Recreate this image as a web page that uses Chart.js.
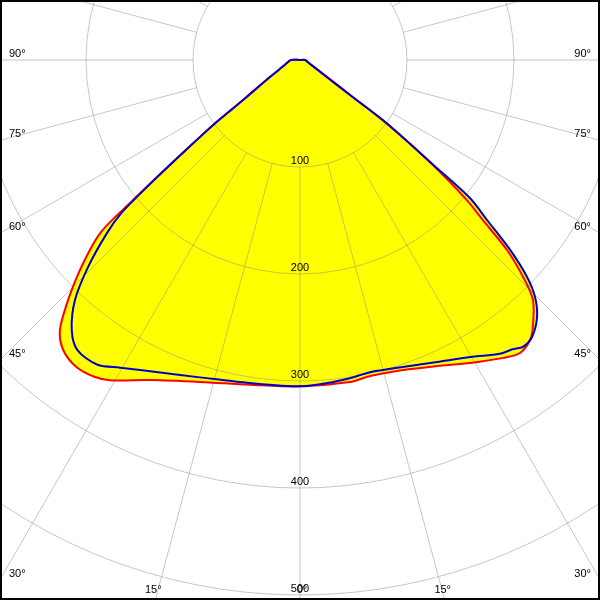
<!DOCTYPE html>
<html>
<head>
<meta charset="utf-8">
<script src="https://cdn.jsdelivr.net/npm/chart.js@4.4.1/dist/chart.umd.min.js"></script>
<style>
  body { margin: 0; background: #fff; }
  #wrap { width: 600px; height: 600px; }
</style>
</head>
<body>
<div id="wrap"><canvas id="myChart" width="600" height="600"></canvas></div>
<script>
// luminous intensity (cd), angles in degrees measured from straight down
const redLeftAngles  = [0, 8.75, 17.25, 25, 30.7, 33, 36, 39.2, 41.6, 44, 46.6, 49.1, 50, 51.1, 52, 53.2, 54.4, 56.3, 60.5, 65, 75, 90, 180];
const redLeftValues  = [305, 307, 315, 330, 348, 353, 355, 350, 338, 312, 281, 247, 204, 156, 128, 101, 73, 52, 32, 22, 13.5, 8.5, 0];
const redRightAngles = [0, 8.8, 12.5, 18.4, 24.1, 29.3, 34.3, 36.9, 39.4, 41.1, 44.15, 45.8, 47.45, 48.8, 50, 51.8, 53.9, 55, 57, 60, 70, 90, 180];
const redRightValues = [305, 304.6, 302.5, 305.3, 313.3, 324.7, 337, 342.4, 338.7, 331, 312.6, 290.8, 262.6, 227, 203, 155, 96, 57, 33, 20.5, 9, 4.7, 0];

const blueLeftAngles  = [0, 8.8, 17.5, 24.1, 30.3, 33.6, 37.5, 40.2, 43.15, 45.7, 48.1, 49.4, 50.2, 51.1, 52, 53.2, 54.4, 56.3, 60.5, 65, 75, 90, 180];
const blueLeftValues  = [305, 305.5, 311, 320, 333, 342, 341.7, 330.5, 307.5, 276.5, 242.6, 220, 190, 156, 128, 101, 73, 52, 32, 22, 13.5, 8.5, 0];
const blueRightAngles = [0, 4.8, 8.9, 12.65, 18.5, 24.4, 30.2, 34.2, 36.3, 37.85, 39.95, 42.7, 44.75, 46.3, 47.9, 49.45, 50.9, 51.8, 53.9, 55, 57, 60, 70, 90, 180];
const blueRightValues = [305, 303, 301, 299, 302.6, 310, 321, 332, 335.5, 339.5, 337.7, 326.7, 312, 293.5, 264.7, 230, 204.6, 159, 100, 59, 34.5, 21.3, 9.4, 4.7, 0];

const ringValues = [100, 200, 300, 400, 500];
const angleLabels = [90, 75, 60, 45, 30, 15, 0];
const spokeStep = 15;

// turn the two half-planes into one closed curve (x to the right, y up)
function toPoints(leftA, leftV, rightA, rightV) {
  const pts = [];
  for (let i = leftA.length - 1; i >= 0; i--) {
    const a = leftA[i] * Math.PI / 180;
    pts.push({x: -leftV[i] * Math.sin(a), y: -leftV[i] * Math.cos(a)});
  }
  for (let i = 1; i < rightA.length; i++) {
    const a = rightA[i] * Math.PI / 180;
    pts.push({x: rightV[i] * Math.sin(a), y: -rightV[i] * Math.cos(a)});
  }
  return pts;
}

const redPoints = toPoints(redLeftAngles, redLeftValues, redRightAngles, redRightValues);
const bluePoints = toPoints(blueLeftAngles, blueLeftValues, blueRightAngles, blueRightValues);

const polarGrid = {
  id: 'polarGrid',
  beforeDatasetsDraw(chart) {
    const ctx = chart.ctx;
    const area = chart.chartArea;
    const sx = chart.scales.x, sy = chart.scales.y;
    const cx = sx.getPixelForValue(0), cy = sy.getPixelForValue(0);
    const k = sx.getPixelForValue(100) - cx; // px per 100 cd

    ctx.save();
    ctx.beginPath();
    ctx.rect(area.left, area.top, area.right - area.left, area.bottom - area.top);
    ctx.clip();

    // yellow fill of both curves
    chart.data.datasets.forEach((ds, i) => {
      const line = chart.getDatasetMeta(i).dataset;
      ctx.beginPath();
      line.path(ctx);
      ctx.closePath();
      ctx.fillStyle = '#ffff00';
      ctx.fill();
    });

    ctx.strokeStyle = 'rgba(130,130,130,0.45)';
    ctx.lineWidth = 1;
    ringValues.forEach(v => {
      ctx.beginPath();
      ctx.arc(cx, cy, v / 100 * k, 0, Math.PI * 2);
      ctx.stroke();
    });
    for (let a = 0; a < 360; a += spokeStep) {
      const r = a * Math.PI / 180;
      const dx = Math.sin(r), dy = Math.cos(r);
      ctx.beginPath();
      ctx.moveTo(cx + dx * k, cy + dy * k);
      ctx.lineTo(cx + dx * k * 10, cy + dy * k * 10);
      ctx.stroke();
    }

    ctx.fillStyle = '#000';
    ctx.font = '11px "Liberation Sans", Arial, sans-serif';
    ctx.textAlign = 'center';
    ctx.textBaseline = 'alphabetic';
    ringValues.forEach(v => {
      ctx.fillText(String(v), cx, cy + v / 100 * k - 3);
    });

    angleLabels.forEach(deg => {
      const r = deg * Math.PI / 180;
      const s = Math.sin(r), c = Math.cos(r);
      const tSide = s > 0 ? (cx - area.left) / s : Infinity;
      const tBottom = (area.bottom - cy) / c;
      if (tSide < tBottom) {
        const y = cy + c * tSide;
        ctx.textAlign = 'left';
        ctx.fillText(deg + '°', area.left + 9, y - 3);
        ctx.textAlign = 'right';
        ctx.fillText(deg + '°', area.right - 9, y - 3);
      } else if (deg === 0) {
        ctx.textAlign = 'center';
        ctx.fillText('0°', cx + 2, area.bottom - 7);
      } else {
        const off = s * tBottom;
        ctx.textAlign = 'center';
        ctx.fillText(deg + '°', cx - off - 2, area.bottom - 7);
        ctx.fillText(deg + '°', cx + off - 2, area.bottom - 7);
      }
    });
    ctx.restore();
  },
  afterDraw(chart) {
    const ctx = chart.ctx;
    ctx.save();
    ctx.strokeStyle = '#000';
    ctx.lineWidth = 2;
    ctx.strokeRect(1, 1, chart.width - 2, chart.height - 2);
    ctx.restore();
  }
};

const ctx = document.getElementById('myChart').getContext('2d');
const myChart = new Chart(ctx, {
  type: 'scatter',
  data: {
    datasets: [{
      label: 'C0-C180',
      data: redPoints,
      showLine: true,
      borderColor: '#ff0000',
      borderWidth: 2,
      pointRadius: 0,
      tension: 0.3,
      fill: false,
      order: 2
    }, {
      label: 'C90-C270',
      data: bluePoints,
      showLine: true,
      borderColor: '#0000cc',
      borderWidth: 2,
      pointRadius: 0,
      tension: 0.3,
      fill: false,
      order: 1
    }]
  },
  options: {
    responsive: false,
    animation: false,
    devicePixelRatio: 1,
    layout: { padding: 0 },
    plugins: { legend: { display: false }, tooltip: { enabled: false } },
    scales: {
      x: { type: 'linear', display: false, min: -280.37, max: 280.37 },
      y: { type: 'linear', display: false, min: -504.67, max: 56.07 }
    }
  },
  plugins: [polarGrid]
});
</script>
</body>
</html>
